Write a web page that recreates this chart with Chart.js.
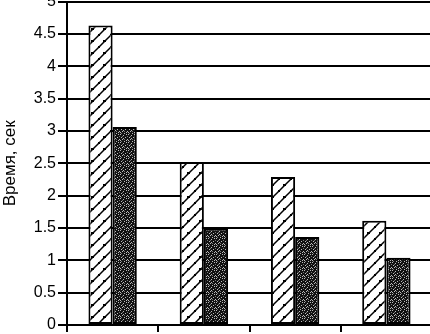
<!DOCTYPE html>
<html>
<head>
<meta charset="utf-8">
<script src="https://cdn.jsdelivr.net/npm/chart.js@4.4.1/dist/chart.umd.min.js"></script>
<style>
  html, body { margin: 0; padding: 0; background: #fff; overflow: hidden; width: 430px; height: 334px; }
  #chart { position: absolute; left: 0; top: -10px; }
</style>
</head>
<body>
<canvas id="chart" width="432" height="347"></canvas>
<script>
// data
const categories = ['1', '2', '3', '4'];
const seriesA = [4.63, 2.52, 2.29, 1.61];
const seriesB = [3.06, 1.49, 1.36, 1.04];
const yTicks = [0, 0.5, 1, 1.5, 2, 2.5, 3, 3.5, 4, 4.5, 5];
const yTitle = 'Время, сек';

Chart.defaults.font.family = "'Liberation Sans', Arial, sans-serif";
Chart.defaults.font.size = 16;
Chart.defaults.color = '#000';

// light hatched fill
function hatchPattern() {
  const c = document.createElement('canvas');
  c.width = 12; c.height = 12;
  const g = c.getContext('2d');
  g.fillStyle = '#fff';
  g.fillRect(0, 0, 12, 12);
  g.strokeStyle = '#000';
  g.lineWidth = 1.5;
  g.beginPath();
  g.moveTo(0, 12); g.lineTo(12, 0);
  g.moveTo(-3, 3); g.lineTo(3, -3);
  g.moveTo(9, 15); g.lineTo(15, 9);
  g.stroke();
  g.fillStyle = '#000';
  g.fillRect(7, 2, 3, 2);
  g.fillRect(2, 8, 2, 2);
  return g.createPattern(c, 'repeat');
}

// dark speckled fill
function speckPattern() {
  const c = document.createElement('canvas');
  c.width = 8; c.height = 8;
  const g = c.getContext('2d');
  g.fillStyle = '#111';
  g.fillRect(0, 0, 8, 8);
  g.fillStyle = '#bbb';
  const dots = [[0,0],[3,1],[6,0],[1,3],[5,3],[2,5],[7,5],[0,6],[4,7],[6,6],[3,4]];
  dots.forEach(d => g.fillRect(d[0], d[1], 1, 1));
  g.fillStyle = '#777';
  [[2,2],[7,2],[4,5],[1,7]].forEach(d => g.fillRect(d[0], d[1], 1, 1));
  return g.createPattern(c, 'repeat');
}

new Chart(document.getElementById('chart'), {
  type: 'bar',
  data: {
    labels: categories,
    datasets: [
      { data: seriesA, backgroundColor: hatchPattern(), borderColor: '#000', borderWidth: 2, borderSkipped: false },
      { data: seriesB, backgroundColor: speckPattern(), borderColor: '#000', borderWidth: 2, borderSkipped: false }
    ]
  },
  options: {
    responsive: false,
    animation: false,
    layout: { padding: 0 },
    plugins: { legend: { display: false }, tooltip: { enabled: false } },
    datasets: { bar: { categoryPercentage: 0.53, barPercentage: 1 } },
    scales: {
      x: {
        grid: { offset: true, drawOnChartArea: false, color: '#000', lineWidth: 2, tickLength: 7 },
        border: { color: '#000', width: 2 },
        ticks: { display: false },
        afterFit: s => { s.height = 12; }
      },
      y: {
        min: 0,
        max: 5,
        afterBuildTicks: s => { s.ticks = yTicks.map(v => ({ value: v })); },
        grid: { color: '#000', lineWidth: 2, tickLength: 9 },
        border: { color: '#000', width: 2 },
        ticks: { padding: 2, color: '#000', callback: v => String(v) },
        title: { display: true, text: yTitle, color: '#000', font: { size: 17 }, padding: { top: 0, bottom: 0 } },
        afterFit: s => { s.width = 67; }
      }
    }
  }
});
</script>
</body>
</html>
